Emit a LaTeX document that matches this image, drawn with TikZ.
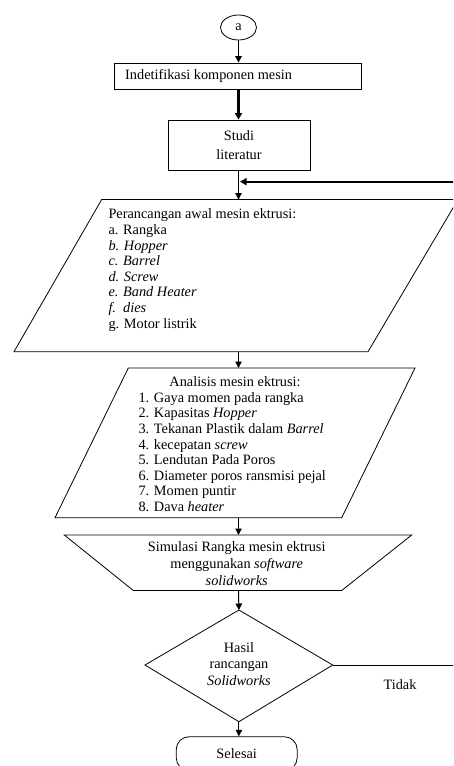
\documentclass[tikz,border=0pt]{standalone}
\usepackage{fontspec}
\setmainfont{Liberation Serif}
\usetikzlibrary{arrows.meta,shapes.geometric}
\begin{document}
\begin{tikzpicture}[x=1pt,y=-1pt,
  shape line/.style={line width=0.8pt},
  arr/.style={line width=1pt,-{Triangle[width=6.5pt,length=6.5pt]}},
  thickarr/.style={line width=2.2pt,-{Triangle[width=7pt,length=6.5pt]}},
  plain/.style={line width=1pt},
  txt/.style={font=\fontsize{14.3}{15.6}\selectfont, inner sep=0pt},
]
\useasboundingbox (0,0) rectangle (453,766);
\clip (0,0) rectangle (453,766);

% connector start circle
\node[draw, shape line, ellipse, minimum width=36pt, minimum height=25pt, inner sep=0pt,
      font=\fontsize{14.3}{16}\selectfont] (a) at (238.5,27.5) {a};

% box 1
\node[draw, shape line, minimum width=247.5pt, minimum height=26pt, inner sep=0pt] (b1) at (238,76) {};
\node[txt, anchor=west] (b1t) at (125,76) {Indetifikasi komponen mesin};

% box 2
\node[draw, shape line, minimum width=142pt, minimum height=50pt, inner sep=0pt, align=center,
      font=\fontsize{14.3}{18.3}\selectfont] (b2) at (239,145) {Studi\\literatur};

% junction of feedback
\coordinate (j) at (238.5,181.7);
\coordinate (fbt) at (456,181.7);

% parallelogram 1
\coordinate (p1n) at (238.5,199.5);
\coordinate (p1s) at (238.5,351.7);
\draw[shape line] (101.7,199.5) -- (458,199.5) -- (368,351.7) -- (14,351.7) -- cycle;
\node[txt, anchor=north west, align=left] (p1t) at (108.3,208.8) {Perancangan awal mesin ektrusi:\\
a. Rangka\\
\textit{b. Hopper}\\
\textit{c. Barrel}\\
\textit{d. Screw}\\
\textit{e. Band Heater}\\
\textit{f.\ \ dies}\\
g. Motor listrik};

% parallelogram 2
\coordinate (p2n) at (238.5,368);
\coordinate (p2s) at (238.5,517.7);
\draw[shape line] (128.3,368) -- (415,368) -- (341.7,517.7) -- (55,517.7) -- cycle;
\node[txt] (p2h) at (235,381.7) {Analisis mesin ektrusi:};
\node[txt, anchor=north west, align=left] (p2t) at (138.3,392.2) {1. Gaya momen pada rangka\\
2. Kapasitas \textit{Hopper}\\
3. Tekanan Plastik dalam \textit{Barrel}\\
4. kecepatan \textit{screw}\\
5. Lendutan Pada Poros\\
6. Diameter poros ransmisi pejal\\
7. Momen puntir\\
8. Dava \textit{heater}};

% manual operation trapezoid
\coordinate (tn) at (238.5,535);
\coordinate (ts) at (238.5,590.5);
\draw[shape line] (64.3,535) -- (411.7,535) -- (341.7,590.5) -- (133.3,590.5) -- cycle;
\node[txt, align=center, font=\fontsize{14.3}{16.7}\selectfont] (tt) at (236.7,563.5)
  {Simulasi Rangka mesin ektrusi\\menggunakan \textit{software}\\\textit{solidworks}};

% decision diamond
\coordinate (dn) at (238.9,610);
\coordinate (de) at (332.7,665);
\coordinate (ds) at (238.9,721.7);
\coordinate (dw) at (145,665);
\draw[shape line] (dn) -- (de) -- (ds) -- (dw) -- cycle;
\node[txt, align=center, font=\fontsize{14.3}{16.7}\selectfont] (dt) at (239,664)
  {Hasil\\rancangan\\\textit{Solidworks}};
\coordinate (fbr) at (456,665);
\node[txt] (tidak) at (400,685) {Tidak};

% terminal
\node[draw, shape line, rounded corners=13pt, minimum width=121pt, minimum height=34pt, inner sep=0pt,
      font=\fontsize{14.3}{16}\selectfont] (sel) at (236.7,753.7) {Selesai};

% connectors
\draw[arr] (a.south) -- (a.south |- b1.north);
\draw[thickarr] (a.south |- b1.south) -- (a.south |- b2.north);
\draw[arr] (a.south |- b2.south) -- (p1n);
\draw[thickarr] (fbt) -- ([xshift=1.5pt]j);
\draw[arr] (p1s) -- (p2n);
\draw[arr] (p2s) -- (tn);
\draw[arr] (ts) -- (dn);
\draw[arr] (ds) -- (ds |- sel.north);
\draw[plain] (de) -- (fbr) -- (fbt);
\end{tikzpicture}
\end{document}
